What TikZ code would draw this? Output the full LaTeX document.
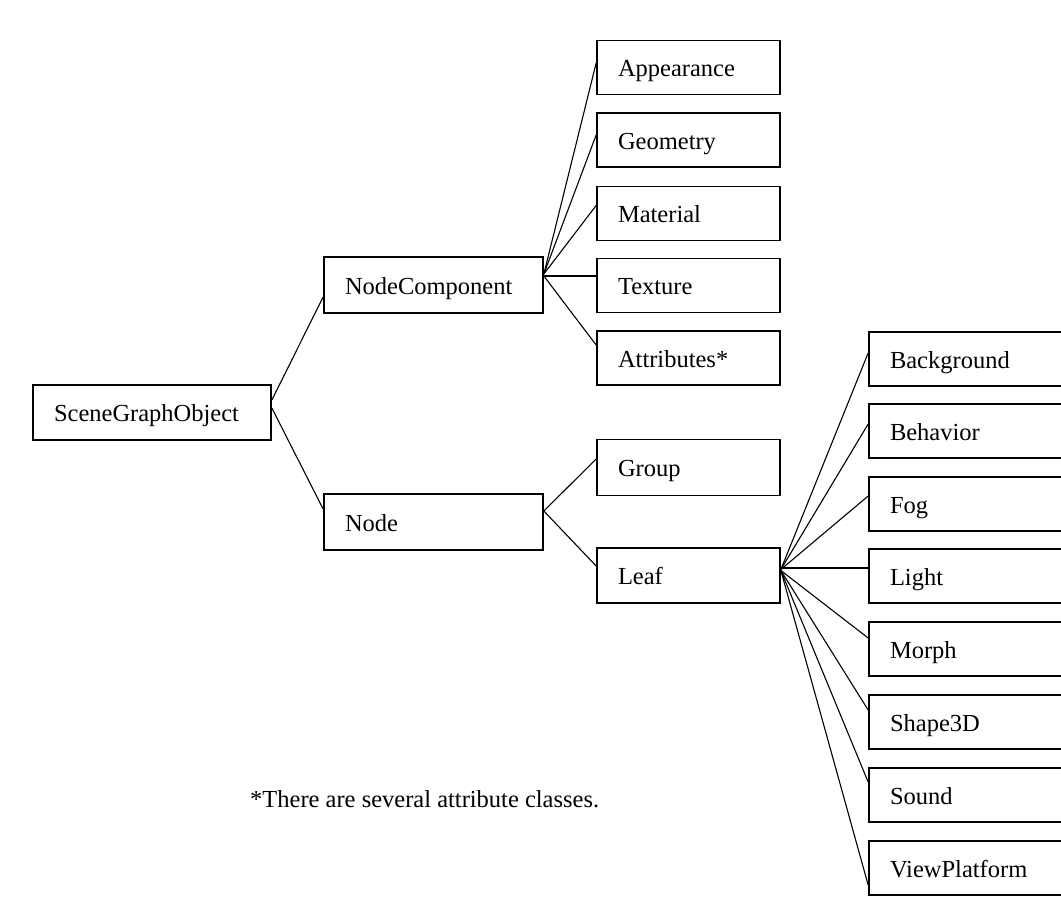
\documentclass[tikz,border=0pt]{standalone}
\usepackage{fontspec}
\setmainfont{Liberation Serif}
\begin{document}
\begin{tikzpicture}[x=1pt,y=-1pt,
  box/.style={draw=black, line width=1.7pt, rectangle, inner xsep=21pt, inner ysep=0pt,
    align=left, text height=18.5pt, text depth=0pt,
    font=\fontsize{24.5}{28}\selectfont},
  colA/.style={box, minimum height=55pt, text width=196pt},
  colB/.style={box, minimum height=56pt, text width=177pt},
  colC/.style={box, minimum height=54pt, text width=141pt},
  colD/.style={box, minimum height=54pt, text width=178pt},
  link/.style={draw=black, line width=1.1pt}]
\fill[white] (0,0) rectangle (1061,898);
\useasboundingbox (0,0) rectangle (1061,898);
\clip (0,0) rectangle (1061,898);
% column 1
\node[colA] (sgo) at (152,412.5) {SceneGraphObject};
% column 2
\node[colB] (nc) at (433.5,285) {NodeComponent};
\node[colB] (node) at (433.5,522) {Node};
% column 3
\node[colC] (app) at (688.5,67.5) {Appearance};
\node[colC] (geo) at (688.5,140) {Geometry};
\node[colC] (mat) at (688.5,213.5) {Material};
\node[colC] (tex) at (688.5,285.5) {Texture};
\node[colC] (att) at (688.5,358) {Attributes*};
\node[colC, minimum height=56pt] (grp) at (688.5,467.5) {Group};
\node[colC, minimum height=55pt] (leaf) at (688.5,575.5) {Leaf};
% column 4
\node[colD] (bg) at (979,359) {Background};
\node[colD] (beh) at (979,431) {Behavior};
\node[colD] (fog) at (979,504) {Fog};
\node[colD] (lig) at (979,576) {Light};
\node[colD] (mor) at (979,649) {Morph};
\node[colD] (shp) at (979,722) {Shape3D};
\node[colD] (snd) at (979,795) {Sound};
\node[colD] (vp) at (979,868) {ViewPlatform};
% footnote
\node[anchor=base west, inner sep=0pt, font=\fontsize{24.5}{28}\selectfont] (note) at (250,807) {*There are several attribute classes.};
% connectors
\draw[link] ([yshift=12.5pt]sgo.east) -- ([yshift=-12pt]nc.west);
\draw[link] ([yshift=4.5pt]sgo.east) -- ([yshift=13pt]node.west);
\draw[link] ([yshift=11pt]nc.east) -- ([yshift=4.5pt]app.west);
\draw[link] ([yshift=11pt]nc.east) -- ([yshift=5pt]geo.west);
\draw[link] ([yshift=11pt]nc.east) -- ([yshift=8pt]mat.west);
\draw[link] ([yshift=9pt]nc.east) -- ([yshift=9.5pt]tex.west);
\draw[link] ([yshift=9pt]nc.east) -- ([yshift=13pt]att.west);
\draw[link] ([yshift=11pt]node.east) -- ([yshift=8.5pt]grp.west);
\draw[link] ([yshift=11pt]node.east) -- ([yshift=9.5pt]leaf.west);
\draw[link] ([yshift=6pt]leaf.east) -- ([yshift=6pt]bg.west);
\draw[link] ([yshift=6pt]leaf.east) -- ([yshift=7pt]beh.west);
\draw[link] ([yshift=6pt]leaf.east) -- ([yshift=8pt]fog.west);
\draw[link] ([yshift=7.5pt]leaf.east) -- ([yshift=8pt]lig.west);
\draw[link] ([yshift=5pt]leaf.east) -- ([yshift=11pt]mor.west);
\draw[link] ([yshift=5pt]leaf.east) -- ([yshift=12pt]shp.west);
\draw[link] ([yshift=5pt]leaf.east) -- ([yshift=13pt]snd.west);
\draw[link] ([yshift=5pt]leaf.east) -- ([yshift=-17pt]vp.west);
\end{tikzpicture}
\end{document}
